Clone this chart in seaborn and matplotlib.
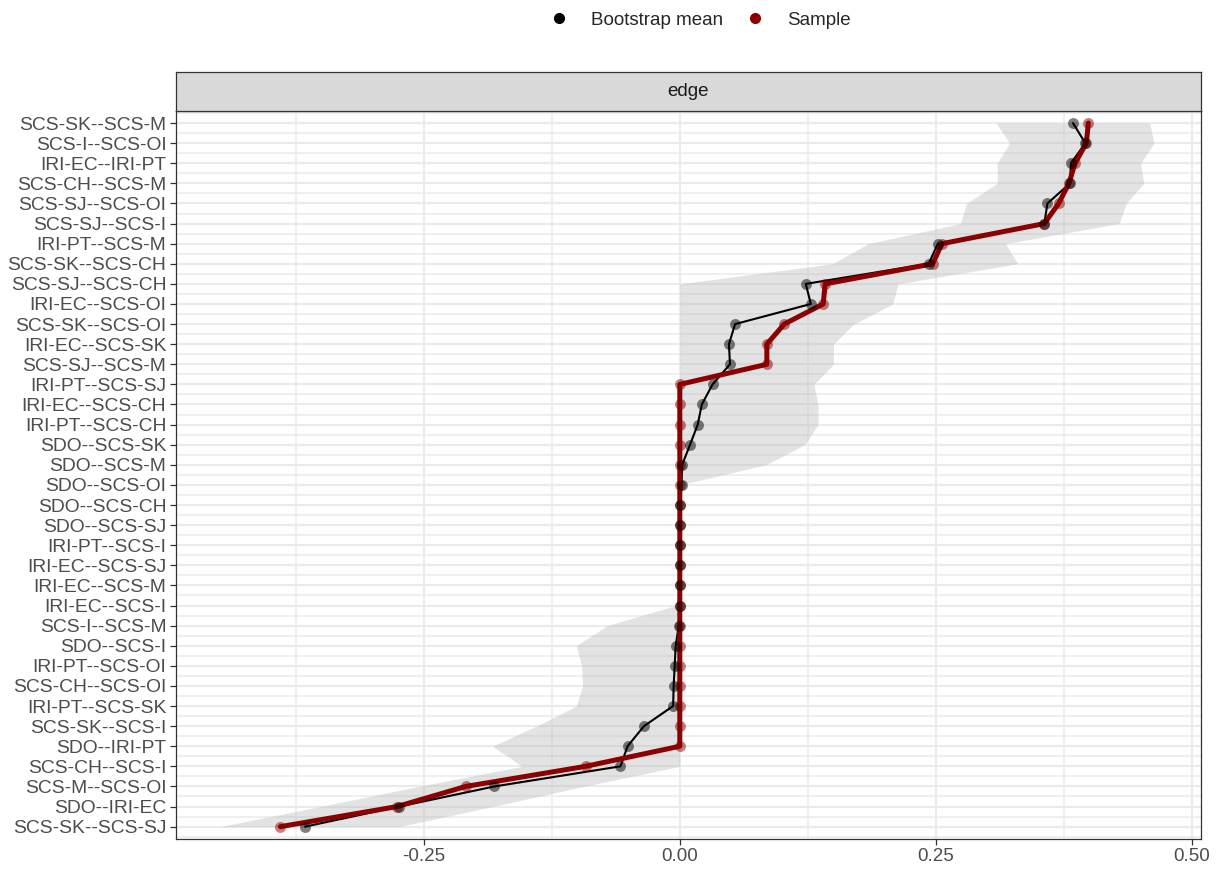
import numpy as np
import pandas as pd
import seaborn as sns
import matplotlib.pyplot as plt
from matplotlib.lines import Line2D
from matplotlib.ticker import FixedLocator

# edges, sorted as in the plot (top to bottom)
edges = [
    "SCS-SK--SCS-M", "SCS-I--SCS-OI", "IRI-EC--IRI-PT", "SCS-CH--SCS-M",
    "SCS-SJ--SCS-OI", "SCS-SJ--SCS-I", "IRI-PT--SCS-M", "SCS-SK--SCS-CH",
    "SCS-SJ--SCS-CH", "IRI-EC--SCS-OI", "SCS-SK--SCS-OI", "IRI-EC--SCS-SK",
    "SCS-SJ--SCS-M", "IRI-PT--SCS-SJ", "IRI-EC--SCS-CH", "IRI-PT--SCS-CH",
    "SDO--SCS-SK", "SDO--SCS-M", "SDO--SCS-OI", "SDO--SCS-CH",
    "SDO--SCS-SJ", "IRI-PT--SCS-I", "IRI-EC--SCS-SJ", "IRI-EC--SCS-M",
    "IRI-EC--SCS-I", "SCS-I--SCS-M", "SDO--SCS-I", "IRI-PT--SCS-OI",
    "SCS-CH--SCS-OI", "IRI-PT--SCS-SK", "SCS-SK--SCS-I", "SDO--IRI-PT",
    "SCS-CH--SCS-I", "SCS-M--SCS-OI", "SDO--IRI-EC", "SCS-SK--SCS-SJ",
]

sample = [
    0.399, 0.397, 0.386, 0.380, 0.370, 0.356, 0.256, 0.247,
    0.142, 0.140, 0.102, 0.085, 0.085, 0.0, 0.0, 0.0,
    0.0, 0.0, 0.0, 0.0, 0.0, 0.0, 0.0, 0.0,
    0.0, 0.0, 0.0, 0.0, 0.0, 0.0, 0.0, 0.0,
    -0.092, -0.209, -0.276, -0.390,
]

boot_mean = [
    0.384, 0.396, 0.382, 0.381, 0.359, 0.356, 0.252, 0.243,
    0.123, 0.128, 0.054, 0.048, 0.049, 0.032, 0.0215, 0.0175,
    0.010, 0.0023, 0.0017, 0.0005, 0.0003, 0.0002, 0.0001, 0.0,
    0.0, -0.001, -0.004, -0.005, -0.006, -0.0065, -0.035, -0.051,
    -0.058, -0.181, -0.274, -0.366,
]

ci_lower = [
    0.309, 0.322, 0.310, 0.310, 0.280, 0.274, 0.184, 0.149,
    0.0, 0.0, 0.0, 0.0, 0.0, 0.0, 0.0, 0.0,
    0.0, 0.0, 0.0, 0.0, 0.0, 0.0, 0.0, 0.0,
    -0.004, -0.071, -0.101, -0.096, -0.095, -0.101, -0.140, -0.183,
    -0.154, -0.255, -0.351, -0.449,
]

ci_upper = [
    0.459, 0.463, 0.450, 0.453, 0.436, 0.429, 0.318, 0.330,
    0.213, 0.208, 0.170, 0.150, 0.150, 0.131, 0.135, 0.135,
    0.122, 0.084, 0.0, 0.0, 0.0, 0.0, 0.0, 0.0,
    0.0, 0.0, 0.0, 0.0, 0.0, 0.0, 0.0, 0.0,
    0.0, -0.094, -0.183, -0.274,
]

x_ticks = [-0.25, 0.0, 0.25, 0.50]
x_tick_labels = ["-0.25", "0.00", "0.25", "0.50"]

sns.set_style("white")
plt.rcParams["font.family"] = ["Liberation Sans", "DejaVu Sans"]

df = pd.DataFrame({
    "edge": edges,
    "row": np.arange(len(edges)),
    "sample": sample,
    "boot": boot_mean,
    "lower": ci_lower,
    "upper": ci_upper,
})

W, H = 1218, 869
fig = plt.figure(figsize=(W / 100, H / 100), dpi=100)
left, right, top, bottom = 176, 1201, 111, 838.7
ax = fig.add_axes([left / W, 1 - bottom / H, (right - left) / W, (bottom - top) / H])
strip = fig.add_axes([left / W, 1 - 110.7 / H, (right - left) / W, (110.7 - 72.3) / H])

# grid
ax.set_axisbelow(True)
ax.xaxis.set_minor_locator(FixedLocator([-0.375, -0.125, 0.125, 0.375]))
ax.yaxis.set_minor_locator(FixedLocator(np.arange(-0.5, len(edges), 1.0)))
ax.grid(which="major", color="#EBEBEB", lw=1.5, zorder=0)
ax.grid(which="minor", color="#EBEBEB", lw=1.1, zorder=0)

# CI band
ax.fill_betweenx(df["row"], df["lower"], df["upper"], color="#BEBEBE",
                 alpha=0.43, lw=0, zorder=1)

sns.lineplot(data=df, x="boot", y="row", sort=False, estimator=None,
             color="black", lw=1.5, ax=ax, zorder=2)
sns.lineplot(data=df, x="sample", y="row", sort=False, estimator=None,
             color="#8B0000", lw=3.6, ax=ax, zorder=3)
sns.scatterplot(data=df, x="sample", y="row", color="#8B0000", alpha=0.5,
                s=62, linewidth=0, ax=ax, zorder=4)
sns.scatterplot(data=df, x="boot", y="row", color="black", alpha=0.5,
                s=62, linewidth=0, ax=ax, zorder=5)

ax.set_xlim(-0.492, 0.509)
ax.set_ylim(len(edges) - 0.4, -0.6)
ax.set_xticks(x_ticks, labels=x_tick_labels)
ax.set_yticks(df["row"], labels=edges)
ax.set_xlabel("")
ax.set_ylabel("")
ax.tick_params(which="major", length=4, width=0.9, color="#333333",
               direction="out", labelsize=13.5, labelcolor="#4D4D4D", pad=3)
ax.tick_params(axis="y", labelsize=13.9)
ax.tick_params(which="minor", length=0)
ax.tick_params(axis="y", left=True)
ax.tick_params(axis="x", bottom=True)
for sp in ax.spines.values():
    sp.set_visible(True)
    sp.set_color("#333333")
    sp.set_linewidth(0.9)

# facet strip
strip.set_facecolor("#D9D9D9")
strip.set_xticks([])
strip.set_yticks([])
for sp in strip.spines.values():
    sp.set_visible(True)
    sp.set_color("#333333")
    sp.set_linewidth(0.9)
strip.text(0.5, 0.5, "edge", ha="center", va="center", fontsize=13.5,
           color="#1A1A1A", transform=strip.transAxes)

# legend on top
handles = [
    Line2D([], [], marker="o", ls="", color="black", markersize=7),
    Line2D([], [], marker="o", ls="", color="#8B0000", markersize=7),
]
fig.legend(handles, ["Bootstrap mean", "Sample"], loc="center",
           bbox_to_anchor=(700 / W, 1 - 20 / H), ncol=2, frameon=False,
           fontsize=13.5, handlelength=1.0, handletextpad=1.2,
           columnspacing=1.2)

fig.savefig("out.png", dpi=100)
